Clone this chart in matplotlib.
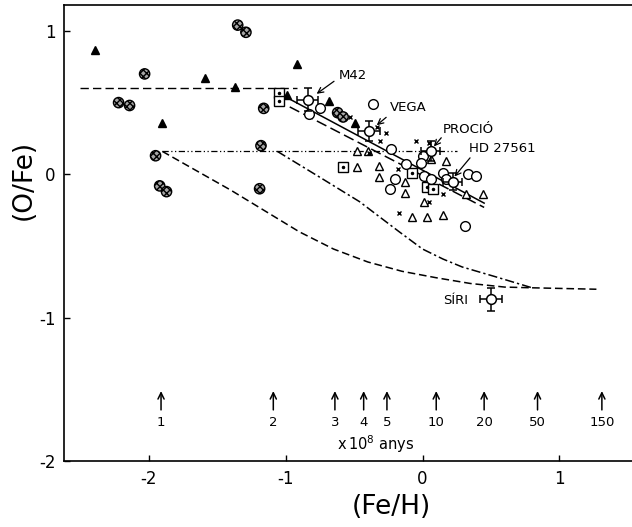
import matplotlib
matplotlib.use("Agg")
from matplotlib import pyplot as plt

plt.rcParams['font.family'] = ['DejaVu Sans']
plt.rcParams['axes.unicode_minus'] = False

# filled triangles
tri_x = [-2.39, -1.59, -1.37, -0.92, -1.90, -0.99, -0.68, -0.49]
tri_y = [0.87, 0.67, 0.61, 0.77, 0.36, 0.55, 0.51, 0.36]

# hatched circles
hat_x = [-1.35, -1.29, -2.03, -2.22, -2.14, -1.16, -1.18, -1.95, -1.92, -1.87, -1.19, -0.62, -0.58]
hat_y = [1.04, 0.99, 0.70, 0.50, 0.48, 0.46, 0.20, 0.13, -0.08, -0.12, -0.10, 0.43, 0.40]

# squares with a dot
sq_x = [-1.05, -1.05, -0.58, -0.08, 0.03, 0.08]
sq_y = [0.57, 0.51, 0.05, 0.01, -0.09, -0.10]

# open circles
oc_x = [-0.75, -0.83, -0.36, -0.24, -0.20, -0.23, 0.00, -0.01, 0.01, 0.06, 0.15, 0.33, 0.39, 0.31, 0.17, -0.12]
oc_y = [0.46, 0.42, 0.49, -0.10, -0.03, 0.18, 0.13, 0.08, -0.01, -0.03, 0.01, 0.00, -0.01, -0.36, -0.03, 0.07]

# open triangles
ot_x = [-0.48, -0.48, -0.32, -0.32, -0.13, -0.13, 0.06, 0.17, 0.32, 0.44, 0.15, 0.03, -0.08, 0.01, -0.40]
ot_y = [0.16, 0.05, 0.06, -0.02, -0.05, -0.13, 0.11, 0.09, -0.14, -0.14, -0.28, -0.30, -0.30, -0.19, 0.16]

# crosses
cr_x = [-0.53, -0.27, -0.31, -0.39, -0.05, 0.05, -0.18, -0.17, 0.15, 0.05, -0.33]
cr_y = [0.40, 0.29, 0.23, 0.15, 0.23, 0.22, 0.04, -0.27, -0.14, -0.19, 0.33]

# named stars with error bars
star_names = ["M42", "VEGA", "PROCIÓ", "HD 27561", "SÍRI"]
star_x = [-0.84, -0.39, 0.06, 0.22, 0.50]
star_y = [0.52, 0.30, 0.16, -0.05, -0.87]
star_xerr = [0.08, 0.08, 0.07, 0.07, 0.08]
star_yerr = [0.08, 0.07, 0.07, 0.06, 0.08]
label_x = [-0.61, -0.24, 0.15, 0.34, 0.15]
label_y = [0.69, 0.465, 0.315, 0.18, -0.88]
pointer_start = [(-0.63, 0.66), (-0.25, 0.41), (0.15, 0.27), (0.36, 0.13), None]
pointer_end = [(-0.79, 0.55), (-0.35, 0.33), (0.07, 0.18), (0.22, -0.03), None]

# model lines
flat_x = [-2.50, -0.92]
flat_y = [0.60, 0.60]
dd_x = [-1.90, 0.25]
dd_y = [0.16, 0.16]
low_x = [-1.90, -1.40, -0.90, -0.65, -0.40, -0.15, 0.10, 0.35, 0.60, 0.80]
low_y = [0.16, -0.11, -0.40, -0.52, -0.61, -0.675, -0.72, -0.76, -0.785, -0.79]
up_x = [-1.06, -0.75, -0.46, -0.17, 0.00, 0.15, 0.29, 0.54, 0.80]
up_y = [0.16, -0.02, -0.19, -0.40, -0.52, -0.59, -0.645, -0.715, -0.79]
tail_x = [0.80, 1.27]
tail_y = [-0.79, -0.80]
fit_x = [-1.02, 0.45]
fit_y = [0.55, -0.20]
fit2_x = [-0.97, 0.45]
fit2_y = [0.47, -0.23]

# age arrows (x 10^8 years)
age_x = [-1.91, -1.09, -0.64, -0.43, -0.26, 0.10, 0.45, 0.84, 1.31]
age_labels = ["1", "2", "3", "4", "5", "10", "20", "50", "150"]

fig = plt.figure(figsize=(6.32, 5.27), dpi=100)
ax = fig.add_axes([0.101, 0.1243, 0.899, 0.8662])
ax.set_xlim(-2.62, 1.53)
ax.set_ylim(-2, 1.18)

ax.plot(flat_x, flat_y, color='k', lw=1.0, dashes=(6, 3))
ax.plot(dd_x, dd_y, color='k', lw=0.9, dashes=(5, 2, 1, 2, 1, 2))
ax.plot(low_x, low_y, color='k', lw=1.1, dashes=(5, 2.5))
ax.plot(up_x, up_y, color='k', lw=1.1, dashes=(6, 2, 1.5, 2))
ax.plot(tail_x, tail_y, color='k', lw=1.1, dashes=(5, 2.5))
ax.plot(fit_x, fit_y, color='k', lw=1.1)
ax.plot(fit2_x, fit2_y, color='k', lw=1.1, dashes=(7, 3))

ax.plot(tri_x, tri_y, '^', color='k', ms=6, ls='none')
ax.scatter(hat_x, hat_y, s=55, marker='o', facecolor='0.65', edgecolor='k',
           hatch='xxxxx', linewidths=1.0, zorder=3)
ax.plot(sq_x, sq_y, 's', mfc='white', mec='k', ms=7, mew=1.0, ls='none')
ax.plot(sq_x, sq_y, '.', color='k', ms=3, ls='none')
ax.plot(oc_x, oc_y, 'o', mfc='white', mec='k', ms=7, mew=1.0, ls='none')
ax.plot(ot_x, ot_y, '^', mfc='white', mec='k', ms=6, mew=1.0, ls='none')
ax.plot(cr_x, cr_y, 'x', color='k', ms=3.5, mew=1.0, ls='none')

ax.errorbar(star_x, star_y, xerr=star_xerr, yerr=star_yerr, fmt='o', mfc='white',
            mec='k', ms=7, mew=1.1, ecolor='k', elinewidth=1.1, capsize=3, capthick=1.1,
            zorder=4)

for i, name in enumerate(star_names):
    ax.text(label_x[i], label_y[i], name, fontsize=9.5, va='center', ha='left')
    if pointer_start[i] is not None:
        ax.annotate("", xy=pointer_end[i], xytext=pointer_start[i],
                    arrowprops=dict(arrowstyle='->', color='k', lw=0.9))

for xa, lab in zip(age_x, age_labels):
    ax.annotate("", xy=(xa, -1.49), xytext=(xa, -1.66),
                arrowprops=dict(arrowstyle='->,head_length=0.45,head_width=0.22',
                                color='k', lw=1.1))
    ax.text(xa, -1.73, lab, fontsize=9.5, ha='center', va='center')
ax.text(-0.34, -1.88, r"x$\,$10$^8$ anys", fontsize=10.5, ha='center', va='center')

ax.set_xticks([-2, -1, 0, 1])
ax.set_yticks([-2, -1, 0, 1])
ax.tick_params(direction='in', length=4, width=1, labelsize=12, pad=6)
ax.spines['right'].set_visible(False)
for s in ['left', 'bottom', 'top']:
    ax.spines[s].set_linewidth(1.2)

ax.set_xlabel("(Fe/H)", fontsize=19)
ax.xaxis.set_label_coords(0.577, -0.072)
ax.set_ylabel("(O/Fe)", fontsize=19)
ax.yaxis.set_label_coords(-0.048, 0.617)

fig.savefig("out.png", dpi=100)
